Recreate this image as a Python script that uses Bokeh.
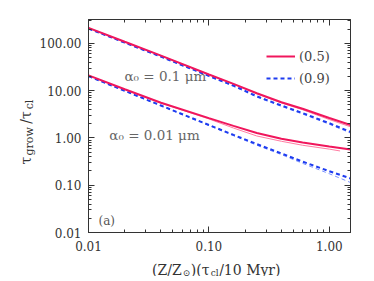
import math
from bokeh.plotting import figure
from bokeh.models import (FixedTicker, CustomJSTickFormatter, LogAxis, Label,
                          Legend, LegendItem, Range1d)
from bokeh.layouts import row, column
from bokeh.embed import file_html
from bokeh.resources import INLINE

# ---------------- data ----------------
x_vals = [0.01, 0.02, 0.04, 0.1, 0.16, 0.25, 0.4, 0.6, 1.0, 1.5]
x_short = [0.01, 0.02, 0.04, 0.1, 0.16, 0.25, 0.4, 0.6, 1.0, 1.23]

# a0 = 0.1 micron group
up_red_thick = [213, 108, 55, 22.0, 13.9, 8.8, 5.7, 4.15, 2.65, 1.88]
up_red_thin = [213, 108, 55, 22.0, 13.8, 8.6, 5.5, 3.95, 2.45, 1.72]
up_blue_thick = [205, 104, 52.5, 20.5, 12.8, 7.6, 4.85, 3.35, 2.05, 1.34]
up_blue_thin = [203, 102, 51.5, 20.0, 12.4, 7.3, 4.65, 3.2, 1.95, 1.27]
# a0 = 0.01 micron group
lo_red_thick = [21.0, 10.7, 5.55, 2.62, 1.80, 1.27, 0.96, 0.80, 0.66, 0.57]
lo_red_thin = [21.0, 10.6, 5.45, 2.52, 1.62, 1.10, 0.85, 0.70, 0.58, 0.53]
lo_blue_thick = [20.3, 9.9, 4.85, 1.88, 1.16, 0.74, 0.47, 0.315, 0.198, 0.139]
lo_blue_thin = [20.0, 9.8, 4.75, 1.83, 1.12, 0.70, 0.445, 0.29, 0.175, 0.114]

y_ticks = [0.01, 0.1, 1, 10, 100]
x_ticks = [0.01, 0.1, 1]
legend_labels = ["(0.5)", "(0.9)"]

# ---------------- style ----------------
RED = "#f0165c"
PINK = "#ff7ca2"
BLUE = "#1e3cf0"
LBLUE = "#7a93ff"
AX = "#333333"
FONT = "DejaVu Serif"

LEFT_W = 36                      # y-title strip width
BL, BR, BT, BB = 50, 18, 19, 24  # main borders
FW, FH = 262, 213                # frame size
P_W = BL + FW + BR
P_H = BT + FH + BB
XT_H = 20                        # x-title strip height
TOT_H = P_H + XT_H

# page-coordinate frame edges
FRAME_L = LEFT_W + BL
FRAME_R = FRAME_L + FW
FRAME_T = BT
FRAME_B = BT + FH

p = figure(x_axis_type="log", y_axis_type="log",
           x_range=Range1d(0.01, 1.5), y_range=Range1d(0.01, 320),
           frame_width=FW, frame_height=FH,
           min_border_left=BL, min_border_right=BR,
           min_border_top=BT, min_border_bottom=BB,
           output_backend="svg", toolbar_location=None)
p.grid.visible = False
p.outline_line_color = AX
p.background_fill_color = "white"
p.border_fill_color = "white"

minor_y = [k * 10.0 ** e for e in range(-2, 3) for k in range(2, 10)]
minor_x = [k * 10.0 ** e for e in range(-2, 1) for k in range(2, 10)]

def style_axis(ax, ticks, minor, labels=True):
    ax.ticker = FixedTicker(ticks=ticks, minor_ticks=minor)
    ax.axis_line_color = AX
    ax.major_tick_line_color = AX
    ax.minor_tick_line_color = AX
    ax.major_tick_in = 6
    ax.major_tick_out = 0
    ax.minor_tick_in = 3
    ax.minor_tick_out = 0
    if labels:
        ax.formatter = CustomJSTickFormatter(code="return tick.toFixed(2)")
        ax.major_label_text_font = FONT
        ax.major_label_text_font_size = "12px"
        ax.major_label_text_color = AX
    else:
        ax.formatter = CustomJSTickFormatter(code="return ''")
        ax.major_label_text_font_size = "0px"
        ax.major_label_standoff = 0

style_axis(p.xaxis[0], x_ticks, minor_x)
style_axis(p.yaxis[0], y_ticks, minor_y)
p.xaxis[0].major_label_standoff = 8
p.yaxis[0].major_label_standoff = 7

top = LogAxis()
style_axis(top, x_ticks, minor_x, labels=False)
p.add_layout(top, "above")
right = LogAxis()
style_axis(right, y_ticks, minor_y, labels=False)
p.add_layout(right, "right")

# thin lines first
p.line(x_vals, up_blue_thin, line_color=LBLUE, line_width=1, line_dash="4 3")
p.line(x_vals, up_red_thin, line_color=PINK, line_width=1)
p.line(x_vals, lo_blue_thin, line_color=LBLUE, line_width=1, line_dash="4 3")
p.line(x_short, lo_red_thin, line_color=PINK, line_width=1)
# thick lines
r_blue = p.line(x_vals, up_blue_thick, line_color=BLUE, line_width=2, line_dash="4 3")
p.line(x_vals, lo_blue_thick, line_color=BLUE, line_width=2, line_dash="4 3")
r_red = p.line(x_vals, up_red_thick, line_color=RED, line_width=2)
p.line(x_vals, lo_red_thick, line_color=RED, line_width=2)

legend = Legend(items=[LegendItem(label=legend_labels[0], renderers=[r_red]),
                       LegendItem(label=legend_labels[1], renderers=[r_blue])],
                location=(178, 144), orientation="vertical",
                border_line_alpha=0, background_fill_alpha=0,
                label_text_font=FONT, label_text_font_size="13px",
                label_text_color="#444444", glyph_width=29, glyph_height=20,
                label_height=20, spacing=2, padding=0, margin=0,
                label_standoff=4)
p.add_layout(legend)

GRAY = "#666666"
p.add_layout(Label(x=0.0199, y=20, text="α₀ = 0.1 μm", text_font=FONT,
                   text_font_size="13.5px", text_color=GRAY,
                   text_baseline="middle", text_align="left"))
p.add_layout(Label(x=0.0149, y=1.14, text="α₀ = 0.01 μm", text_font=FONT,
                   text_font_size="13.5px", text_color=GRAY,
                   text_baseline="middle", text_align="left"))
p.add_layout(Label(x=0.0121, y=0.0174, text="(a)", text_font=FONT,
                   text_font_size="12px", text_color="#555555",
                   text_baseline="middle", text_align="left"))

# ---------- axis-title strips (page-pixel coordinate figures) ----------
def strip(w, h, xr, yr, bl=0, br=0, bt=0, bb=0):
    f = figure(width=w, height=h, x_range=xr, y_range=yr,
               x_axis_location=None, y_axis_location=None,
               min_border_left=bl, min_border_right=br,
               min_border_top=bt, min_border_bottom=bb,
               output_backend="svg", toolbar_location=None)
    f.outline_line_color = None
    f.grid.visible = False
    f.background_fill_color = "white"
    f.border_fill_color = "white"
    return f

W = {'(': 0.390, ')': 0.390, '/': 0.337, 'Z': 0.685, '⊙': 0.838, 'τ': 0.58,
     'c': 0.560, 'l': 0.320, '1': 0.636, '0': 0.636, ' ': 0.318, 'M': 0.952,
     'y': 0.592, 'r': 0.478, 'g': 0.640, 'o': 0.602, 'w': 0.856}

def twidth(s, size, stretch):
    return sum(W.get(ch, 0.6) for ch in s) * size * stretch

def compose(fig, pieces, center, base, stretch=1.0, vertical=False):
    # coordinates are page pixels (y downward)
    total = sum(twidth(t, s, stretch) for t, s, _ in pieces)
    if vertical:
        pos = center + total / 2      # start at bottom, go up
    else:
        pos = center - total / 2
    for t, s, shift in pieces:
        if vertical:
            lab = Label(x=base + shift, y=pos, angle=math.pi / 2)
        else:
            lab = Label(x=pos, y=base + shift)
        lab.text = t
        lab.text_font = FONT
        lab.text_font_size = f"{s}px"
        lab.text_color = AX
        lab.text_align = "left"
        lab.text_baseline = "alphabetic"
        fig.add_layout(lab)
        if vertical:
            pos -= twidth(t, s, stretch)
        else:
            pos += twidth(t, s, stretch)

# x-title strip: frame aligned with the main frame, page coordinates
xt = strip(P_W, XT_H, Range1d(FRAME_L, FRAME_R), Range1d(TOT_H, P_H),
           bl=BL, br=BR)
compose(xt, [("(Z/Z", 14, 0), ("⊙", 9, 3), (")(τ", 14, 0), ("cl", 9, 3),
             ("/10 Myr)", 14, 0)], center=216, base=269, stretch=1.06)

# y-title strip: frame aligned vertically with the main frame
yt = strip(LEFT_W, TOT_H, Range1d(0, LEFT_W), Range1d(FRAME_B, FRAME_T),
           bt=BT, bb=TOT_H - FRAME_B)
compose(yt, [("τ", 14, 0), ("grow", 11, 4), ("/τ", 14, 0), ("cl", 11, 4)],
        center=131, base=25, stretch=1.12, vertical=True)

layout = row(yt, column(p, xt))
open("out.html", "w").write(file_html(layout, INLINE))
